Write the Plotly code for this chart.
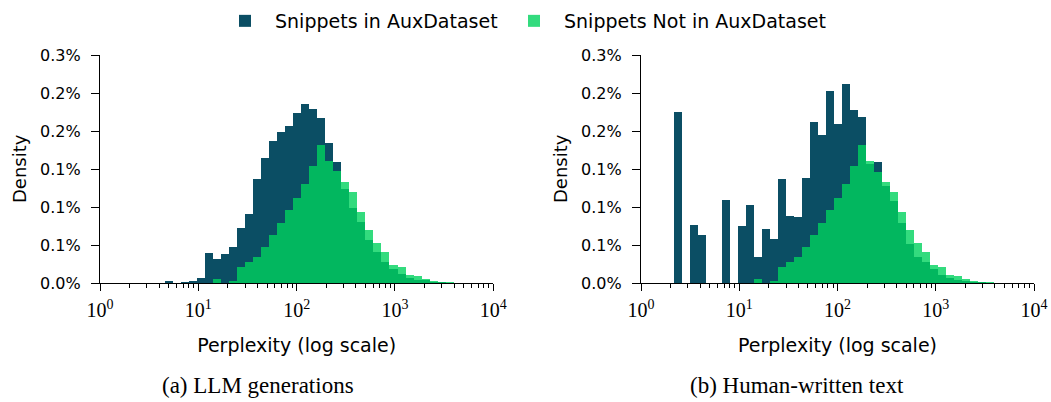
import numpy as np
import plotly.graph_objects as go
from plotly.subplots import make_subplots

# ---- data ----
# histogram bins (log10 of perplexity), 40 equal-width bins in log space
bin_log_start = 0.333
bin_log_width = 0.0816
n_bins = 40

# densities in percent, one value per bin
llm_in_aux = [0, 0, 0, 0, 0.003, 0, 0.0013, 0.0026, 0.0066, 0.0399,
              0.0315, 0.0381, 0.0473, 0.0723, 0.0911, 0.137, 0.1647, 0.187, 0.1989, 0.2063,
              0.2238, 0.2357, 0.2291, 0.2168, 0.184, 0.159, 0.124, 0.099, 0.0806, 0.0569,
              0.0411, 0.028, 0.0188, 0.0122, 0.007, 0.0043, 0.0035, 0.0013, 0.0005, 0]
llm_not_aux = [0, 0, 0, 0, 0, 0, 0, 0, 0, 0,
               0.0057, 0, 0.0031, 0.0215, 0.028, 0.0346, 0.0477, 0.0631, 0.0793, 0.0964,
               0.1117, 0.1305, 0.1542, 0.1818, 0.160, 0.1476, 0.133, 0.12, 0.0937, 0.0704,
               0.053, 0.041, 0.024, 0.0214, 0.011, 0.0096, 0.0057, 0.003, 0.0013, 0.0013]
human_in_aux = [0.2251, 0, 0.0767, 0.0635, 0, 0, 0.1095, 0, 0.0753, 0.1029,
                0.0346, 0.0714, 0.0583, 0.1366, 0.088, 0.0868, 0.138, 0.2115, 0.1945, 0.2523,
                0.209, 0.2615, 0.2274, 0.218, 0.157, 0.1586, 0.1275, 0.1078, 0.0788, 0.0512,
                0.0342, 0.0276, 0.0184, 0.0105, 0.0066, 0.0039, 0.0026, 0.0013, 0.0005, 0]
human_not_aux = [0, 0, 0, 0, 0, 0, 0, 0, 0, 0,
                 0.0053, 0, 0.0028, 0.0206, 0.0272, 0.0337, 0.0469, 0.0626, 0.0784, 0.0955,
                 0.1113, 0.1297, 0.1535, 0.1813, 0.1605, 0.1467, 0.1325, 0.1196, 0.0933, 0.0696,
                 0.0526, 0.0407, 0.0237, 0.021, 0.0105, 0.0092, 0.0053, 0.0026, 0.0013, 0.0013]

series_names = ["Snippets in AuxDataset", "Snippets Not in AuxDataset"]
panel_captions = ["(a) LLM generations", "(b) Human-written text"]
y_title = "Density"
x_title = "Perplexity (log scale)"
y_tick_vals = [0, 0.05, 0.10, 0.15, 0.20, 0.25, 0.30]
y_tick_text = ["0.0%", "0.1%", "0.1%", "0.1%", "0.2%", "0.2%", "0.3%"]
x_decades = [0, 1, 2, 3, 4]
x_tick_text = ["10<sup>0</sup>", "10<sup>1</sup>", "10<sup>2</sup>", "10<sup>3</sup>", "10<sup>4</sup>"]

# ---- styling ----
DARK = "#0b4e64"
GREEN = "rgba(0,210,94,0.8)"
SANS = "DejaVu Sans"
SERIF = "Liberation Serif, Times New Roman, serif"
W, H = 1051, 402
ML, MR, MT, MB = 100, 17, 55, 119
PW, PH = W - ML - MR, H - MT - MB


def px_x(px):
    return (px - ML) / PW


def px_y(py):
    return (H - MB - py) / PH


centers = [bin_log_start + bin_log_width * (i + 0.5) for i in range(n_bins)]
minor_vals = [float(np.log10(m * 10 ** d)) for d in range(4) for m in range(2, 10)]

fig = make_subplots(rows=1, cols=2)

panels = [(llm_in_aux, llm_not_aux), (human_in_aux, human_not_aux)]
for col, (vin, vnot) in enumerate(panels, start=1):
    fig.add_trace(go.Bar(x=centers, y=vin, width=bin_log_width, name=series_names[0],
                         marker=dict(color=DARK, line=dict(width=0)),
                         showlegend=(col == 1), legendgroup="in", legend="legend"),
                  row=1, col=col)
    fig.add_trace(go.Bar(x=centers, y=vnot, width=bin_log_width, name=series_names[1],
                         marker=dict(color=GREEN, line=dict(width=0)),
                         showlegend=(col == 1), legendgroup="not", legend="legend2"),
                  row=1, col=col)

domains = [[0, 393.3 / PW], [541 / PW, 1]]
for col in (1, 2):
    fig.update_xaxes(domain=domains[col - 1], range=[0, 4], tickmode="array",
                     tickvals=x_decades, ticktext=x_tick_text,
                     ticks="outside", ticklen=7, tickwidth=1.3, tickcolor="black",
                     ticklabelstandoff=2, ticklabeloverflow="allow",
                     showline=True, linecolor="black", linewidth=1.3, showgrid=False,
                     zeroline=False, automargin=False,
                     tickfont=dict(family=SERIF, size=20, color="black"),
                     minor=dict(tickmode="array", tickvals=minor_vals, ticks="outside",
                                ticklen=4, tickwidth=1, tickcolor="black", showgrid=False),
                     title=dict(text=x_title, standoff=18,
                                font=dict(family=SANS, size=19, color="black")),
                     row=1, col=col)
    fig.update_yaxes(range=[0, 0.3], tickmode="array", tickvals=y_tick_vals, ticktext=y_tick_text,
                     ticks="outside", ticklen=8, tickwidth=1.3, tickcolor="black",
                     ticklabelstandoff=7,
                     showline=True, linecolor="black", linewidth=1.3, showgrid=False,
                     zeroline=False, automargin=False,
                     tickfont=dict(family=SANS, size=16, color="black"),
                     row=1, col=col)

# y-axis titles placed beside each panel's axis
for px in (19, 560):
    fig.add_annotation(text=y_title, xref="paper", yref="paper", x=px_x(px), y=0.5,
                       textangle=-90, xanchor="center", yanchor="middle", showarrow=False,
                       font=dict(family=SANS, size=18, color="black"))

legend_common = dict(orientation="h", xref="container", yref="paper",
                     y=px_y(2), xanchor="left", yanchor="top",
                     font=dict(family=SANS, size=19), itemwidth=50,
                     bgcolor="rgba(0,0,0,0)")
fig.update_layout(
    width=W, height=H,
    margin=dict(l=ML, r=MR, t=MT, b=MB, autoexpand=False),
    barmode="overlay", bargap=0,
    plot_bgcolor="white", paper_bgcolor="white",
    font=dict(family=SANS, color="black"),
    legend=dict(x=215 / W, **legend_common),
    legend2=dict(x=504 / W, **legend_common),
)

caption_px = [257.5, 797]
for px, txt in zip(caption_px, panel_captions):
    fig.add_annotation(text=txt, xref="paper", yref="paper",
                       x=px_x(px), y=px_y(385),
                       xanchor="center", yanchor="middle", showarrow=False,
                       font=dict(family=SERIF, size=23, color="black"))

fig.write_html("out.html", config={"displayModeBar": False},
               post_script="document.body.style.margin='0';document.body.style.overflow='hidden';")
